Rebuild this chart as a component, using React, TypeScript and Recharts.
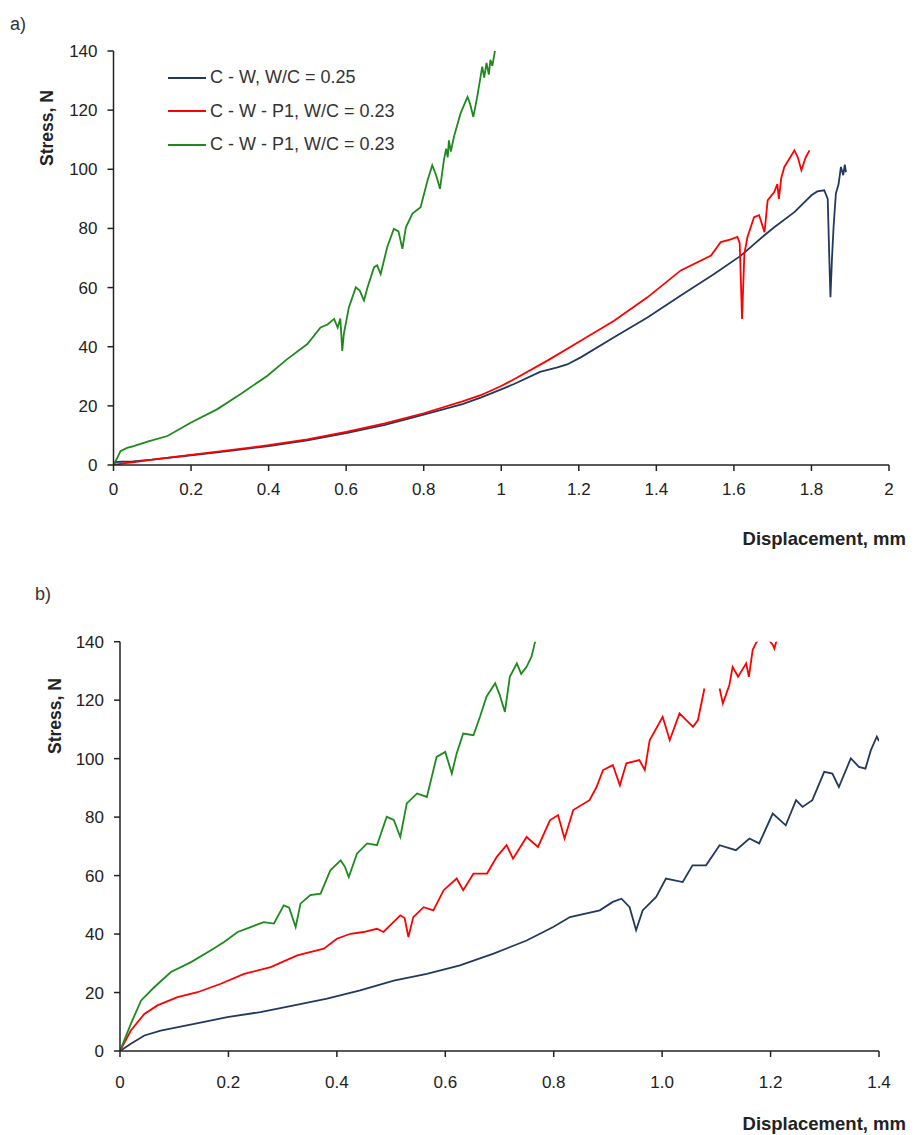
import React from 'react';
import { LineChart, Line, XAxis, YAxis } from 'recharts';

type Pt = { x: number; y: number | null };
const pts = (arr: [number, number | null][]): Pt[] => arr.map(([x, y]) => ({ x, y }));

// ---- chart a) ----
const ticksXA = [0, 0.2, 0.4, 0.6, 0.8, 1, 1.2, 1.4, 1.6, 1.8, 2];
const ticksY = [0, 20, 40, 60, 80, 100, 120, 140];

const blueA = pts([
  [0, 0], [0.005, 1], [0.02, 1.1], [0.05, 1.2], [0.1, 1.8], [0.2, 3.3], [0.3, 4.8],
  [0.4, 6.4], [0.5, 8.3], [0.6, 10.8], [0.7, 13.6], [0.8, 17], [0.9, 20.6], [0.947, 22.8],
  [1.0, 25.6], [1.033, 27.4], [1.1, 31.5], [1.145, 33], [1.17, 34], [1.205, 36.4],
  [1.291, 43.2], [1.377, 49.9], [1.463, 57.3], [1.549, 64.6], [1.618, 70.8], [1.678, 77.6],
  [1.704, 80.4], [1.756, 85.5], [1.8, 91.2], [1.815, 92.5], [1.833, 92.9], [1.842, 90],
  [1.846, 70], [1.849, 56.7], [1.853, 70], [1.857, 80.4], [1.863, 91.8], [1.87, 95],
  [1.876, 100.8], [1.882, 98], [1.886, 101.6], [1.889, 99],
]);

const redA = pts([
  [0, 0], [0.03, 0.6], [0.05, 0.9], [0.1, 1.8], [0.2, 3.4], [0.3, 5], [0.4, 6.7],
  [0.5, 8.7], [0.6, 11.2], [0.7, 14.1], [0.8, 17.5], [0.9, 21.5], [0.947, 23.6],
  [1.0, 26.7], [1.033, 29], [1.119, 35.3], [1.205, 42], [1.291, 48.8], [1.377, 56.7],
  [1.463, 65.8], [1.541, 70.8], [1.566, 75.4], [1.59, 76.2], [1.609, 77.1], [1.615, 75],
  [1.621, 49.4], [1.627, 71.4], [1.635, 77.1], [1.652, 83.8], [1.665, 84.5], [1.679, 78.7],
  [1.687, 89.5], [1.704, 92.3], [1.712, 95], [1.716, 90], [1.722, 97], [1.73, 100.8],
  [1.745, 104], [1.756, 106.4], [1.765, 104], [1.774, 99.7], [1.785, 104], [1.795, 106.4],
]);

const greenA = pts([
  [0, 0], [0.01, 2.5], [0.018, 4.7], [0.035, 5.8], [0.052, 6.4], [0.09, 8], [0.139, 9.8],
  [0.199, 14.3], [0.268, 18.9], [0.328, 24], [0.397, 30.2], [0.448, 35.8], [0.5, 40.9],
  [0.534, 46.5], [0.552, 47.5], [0.569, 49.4], [0.578, 46.5], [0.585, 49.5], [0.59, 38.6],
  [0.594, 44.3], [0.607, 53.3], [0.625, 60.1], [0.635, 59], [0.646, 55.6], [0.655, 60],
  [0.672, 66.9], [0.68, 67.5], [0.689, 64.6], [0.706, 73.7], [0.723, 79.9], [0.735, 79],
  [0.745, 73.1], [0.754, 80.4], [0.771, 85], [0.792, 87.2], [0.81, 96.3], [0.822, 101.4],
  [0.832, 98], [0.842, 93.4], [0.852, 103], [0.858, 107], [0.862, 104], [0.865, 109.8],
  [0.87, 106], [0.878, 111], [0.895, 118.9], [0.913, 124.5], [0.92, 122], [0.928, 117.7],
  [0.938, 124.5], [0.951, 134.7], [0.956, 131], [0.962, 136], [0.968, 132], [0.972, 137],
  [0.977, 135], [0.985, 141],
]);

// ---- chart b) ----
const ticksXB = [0, 0.2, 0.4, 0.6, 0.8, 1.0, 1.2, 1.4];

const blueB = pts([
  [0, 0], [0.02, 2.5], [0.045, 5.3], [0.075, 7], [0.137, 9.3], [0.198, 11.6], [0.259, 13.3],
  [0.321, 15.6], [0.382, 17.9], [0.443, 20.7], [0.505, 24.1], [0.566, 26.4], [0.627, 29.3],
  [0.689, 33.3], [0.75, 37.8], [0.799, 42.4], [0.83, 45.8], [0.885, 48.1], [0.909, 51],
  [0.925, 52.1], [0.94, 49.2], [0.952, 41.3], [0.964, 48.1], [0.989, 52.7], [1.007, 59],
  [1.038, 57.8], [1.056, 63.5], [1.081, 63.5], [1.106, 70.4], [1.136, 68.7], [1.161, 72.7],
  [1.179, 71], [1.204, 81.2], [1.228, 77.2], [1.247, 85.8], [1.259, 83.5], [1.277, 85.8],
  [1.299, 95.5], [1.314, 94.9], [1.326, 90.3], [1.348, 100.1], [1.363, 97.2], [1.375, 96.6],
  [1.385, 102.9], [1.396, 107.5], [1.4, 106],
]);

const redB = pts([
  [0, 0], [0.02, 7], [0.045, 12.7], [0.069, 15.6], [0.106, 18.4], [0.143, 20.1], [0.186, 23],
  [0.229, 26.4], [0.278, 28.7], [0.327, 32.7], [0.376, 35], [0.4, 38.4], [0.425, 40.1],
  [0.449, 40.7], [0.474, 41.8], [0.486, 40.7], [0.517, 46.4], [0.525, 45.5], [0.532, 39],
  [0.541, 45.8], [0.56, 49.2], [0.578, 48.1], [0.597, 55], [0.621, 59], [0.633, 55],
  [0.652, 60.7], [0.677, 60.7], [0.695, 66.4], [0.713, 70.4], [0.725, 65.8], [0.75, 73.2],
  [0.771, 69.8], [0.793, 78.9], [0.808, 80.7], [0.82, 72.7], [0.836, 82.4], [0.866, 85.8],
  [0.879, 90.3], [0.891, 96.1], [0.909, 97.8], [0.922, 90.9], [0.934, 98.4], [0.958, 99.5],
  [0.968, 96.1], [0.977, 106.3], [1.001, 114.3], [1.014, 106.3], [1.032, 115.5], [1.057, 110.9],
  [1.066, 113.2], [1.078, 124], [1.09, null], [1.106, 124], [1.112, 118.9], [1.124, 125.2],
  [1.13, 131.4], [1.14, 128], [1.155, 132.6], [1.16, 128], [1.167, 137.2], [1.173, 139.5],
  [1.185, 143], [1.204, 139], [1.207, 137.7], [1.215, 143],
]);

const greenB = pts([
  [0, 0], [0.02, 9.3], [0.039, 17.3], [0.063, 21.8], [0.094, 27], [0.131, 30.4], [0.167, 34.4],
  [0.192, 37.3], [0.217, 40.7], [0.241, 42.4], [0.265, 44.1], [0.284, 43.6], [0.302, 49.8],
  [0.312, 49], [0.324, 42.4], [0.333, 50.4], [0.351, 53.3], [0.37, 53.8], [0.388, 61.8],
  [0.407, 65.2], [0.415, 63], [0.422, 59.5], [0.437, 67.5], [0.456, 71], [0.474, 70.4],
  [0.492, 80.1], [0.505, 79], [0.517, 73.2], [0.529, 84.7], [0.548, 88.1], [0.566, 86.9],
  [0.584, 100.6], [0.6, 102.3], [0.612, 94.9], [0.621, 101.8], [0.633, 108.6], [0.652, 108],
  [0.664, 114.3], [0.676, 121.2], [0.692, 125.8], [0.7, 122], [0.71, 116], [0.719, 128],
  [0.732, 132.6], [0.74, 129], [0.75, 131.4], [0.759, 134.9], [0.765, 139.5], [0.768, 141],
]);

const BLUE = '#22395f';
const RED = '#ff0000';
const GREEN = '#1e8a1e';

const legendItems = [
  { label: 'C - W, W/C = 0.25', color: BLUE },
  { label: 'C - W - P1, W/C = 0.23', color: RED },
  { label: 'C - W - P1, W/C = 0.23', color: GREEN },
];

const font = '"Liberation Sans", Arial, sans-serif';
const tickStyle = { fontSize: 17, fill: '#222', fontFamily: font };
const axisLine = { stroke: '#222', strokeWidth: 1.5 };

function SeriesLegend() {
  return (
    <div style={{ position: 'absolute', left: 168, top: 61, fontFamily: font, fontSize: 18, color: '#333' }}>
      {legendItems.map((it, i) => (
        <div key={i} style={{ display: 'flex', alignItems: 'center', height: 33.5 }}>
          <span style={{ display: 'inline-block', width: 38, height: 2, background: it.color, marginRight: 4 }} />
          <span>{it.label}</span>
        </div>
      ))}
    </div>
  );
}

const yLabel = (top: number, left: number) => (
  <div
    style={{
      position: 'absolute', left, top, transform: 'rotate(-90deg)', transformOrigin: 'left top',
      fontFamily: font, fontWeight: 'bold', fontSize: 17.5, color: '#222', whiteSpace: 'nowrap',
    }}
  >
    Stress, N
  </div>
);

const xLabel = (top: number) => (
  <div
    style={{
      position: 'absolute', right: 10, top, fontFamily: font, fontWeight: 'bold',
      fontSize: 18.5, color: '#222', whiteSpace: 'nowrap',
    }}
  >
    Displacement, mm
  </div>
);

export default function App() {
  return (
    <div style={{ position: 'absolute', left: 0, top: 0, width: 916, height: 1135, background: '#fff' }}>
      <div style={{ position: 'absolute', left: 10, top: 14, fontFamily: font, fontSize: 18, color: '#333' }}>a)</div>
      <div style={{ position: 'absolute', left: 35, top: 584, fontFamily: font, fontSize: 18, color: '#333' }}>b)</div>

      <div style={{ position: 'absolute', left: 0, top: 0 }}>
        <LineChart width={916} height={560} margin={{ top: 51, right: 27, bottom: 65, left: 63.5 }}>
          <XAxis
            dataKey="x" type="number" domain={[0, 2]} ticks={ticksXA} allowDataOverflow
            interval={0} tick={tickStyle} axisLine={axisLine} tickLine={axisLine}
            tickSize={6} tickMargin={12} height={30}
          />
          <YAxis
            dataKey="y" type="number" domain={[0, 140]} ticks={ticksY} allowDataOverflow
            interval={0} tick={tickStyle} axisLine={axisLine} tickLine={axisLine}
            tickSize={6} tickMargin={10} width={50}
          />
          <Line data={blueA} dataKey="y" stroke={BLUE} strokeWidth={1.8} dot={false} isAnimationActive={false} />
          <Line data={redA} dataKey="y" stroke={RED} strokeWidth={1.8} dot={false} isAnimationActive={false} />
          <Line data={greenA} dataKey="y" stroke={GREEN} strokeWidth={1.8} dot={false} isAnimationActive={false} />
        </LineChart>
      </div>
      <SeriesLegend />
      {yLabel(166, 37)}
      {xLabel(528)}

      <div style={{ position: 'absolute', left: 0, top: 580 }}>
        <LineChart width={916} height={555} margin={{ top: 61.7, right: 37, bottom: 54, left: 70 }}>
          <XAxis
            dataKey="x" type="number" domain={[0, 1.4]} ticks={ticksXB} allowDataOverflow
            interval={0} tick={tickStyle} axisLine={axisLine} tickLine={axisLine}
            tickSize={6} tickMargin={19} height={30}
            tickFormatter={(v: number) => (v === 0 ? '0' : v.toFixed(1))}
          />
          <YAxis
            dataKey="y" type="number" domain={[0, 140]} ticks={ticksY} allowDataOverflow
            interval={0} tick={tickStyle} axisLine={axisLine} tickLine={axisLine}
            tickSize={6} tickMargin={10} width={50}
          />
          <Line data={blueB} dataKey="y" stroke={BLUE} strokeWidth={1.8} dot={false} isAnimationActive={false} />
          <Line data={redB} dataKey="y" stroke={RED} strokeWidth={1.8} dot={false} isAnimationActive={false} />
          <Line data={greenB} dataKey="y" stroke={GREEN} strokeWidth={1.8} dot={false} isAnimationActive={false} />
        </LineChart>
      </div>
      {yLabel(754, 45)}
      {xLabel(1113)}
    </div>
  );
}
